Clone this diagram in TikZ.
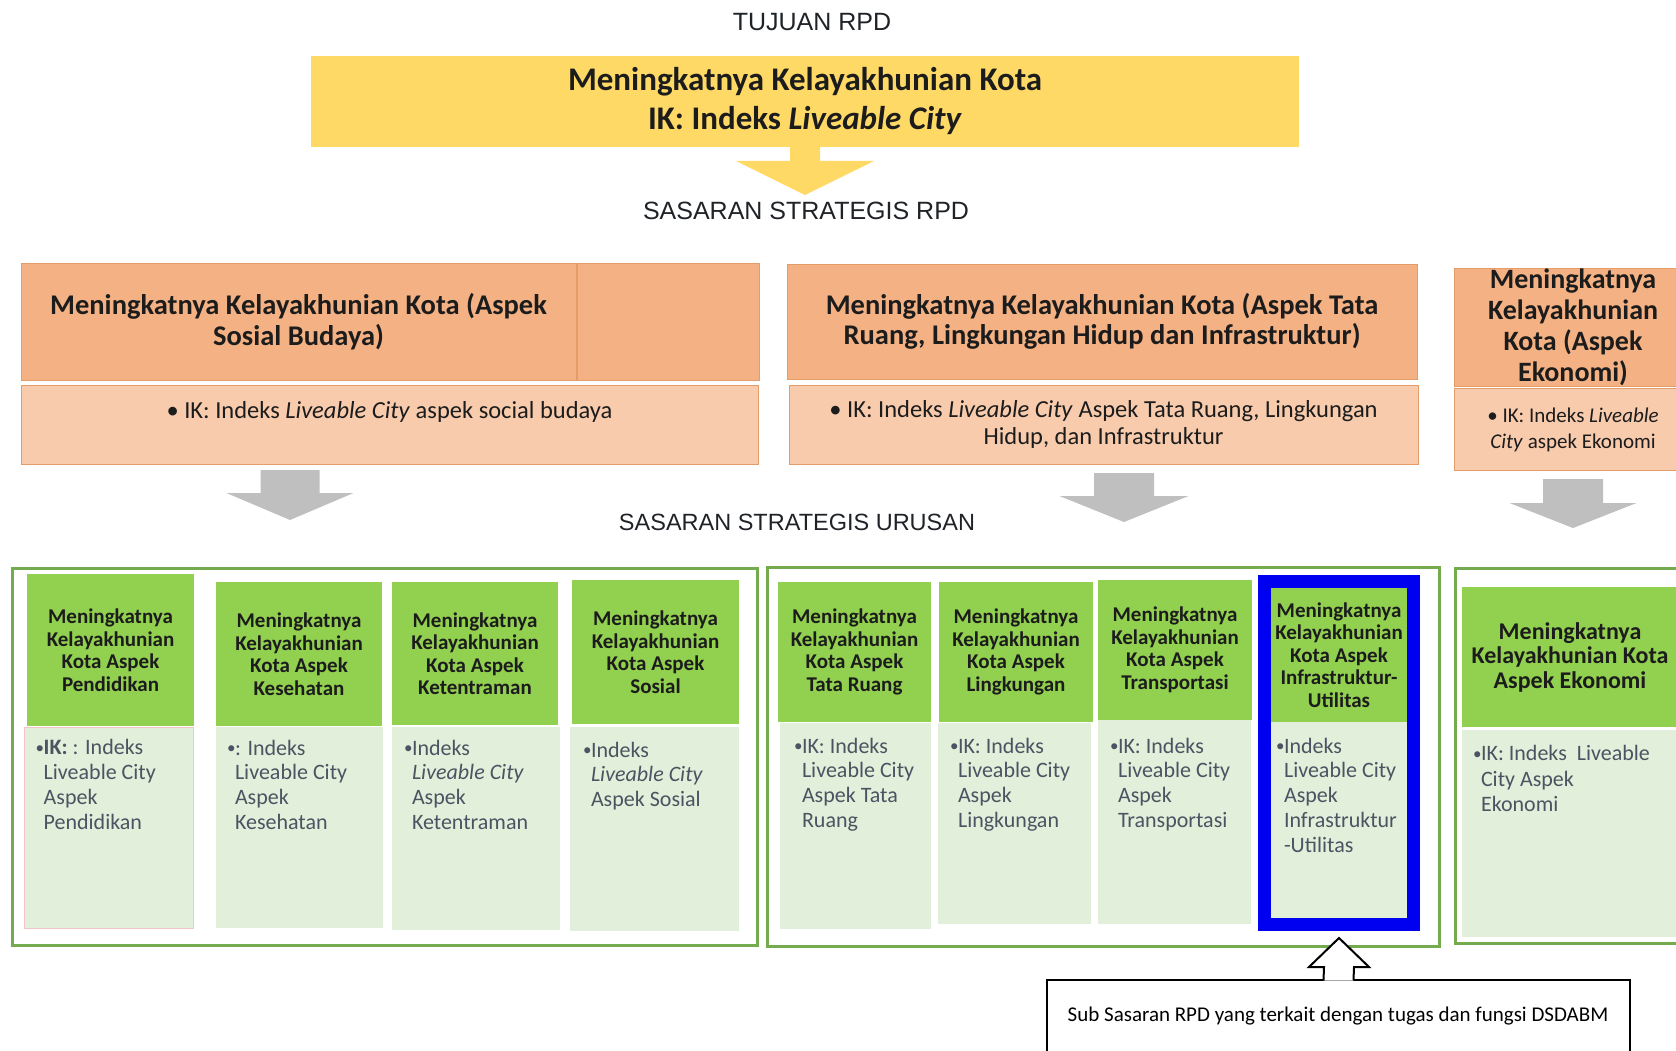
\documentclass[tikz,border=0pt]{standalone}
\usepackage{fontspec}
\setmainfont{Carlito}
\newfontfamily\capfont{Liberation Sans}
\usepackage{tikz}
\usetikzlibrary{positioning, calc, fit}

\definecolor{goldfill}{HTML}{FFD966}
\definecolor{orhead}{HTML}{F4B183}
\definecolor{orik}{HTML}{F8CBAD}
\definecolor{orline}{HTML}{E49C68}
\definecolor{grhead}{HTML}{92D050}
\definecolor{grbody}{HTML}{E2EFDA}
\definecolor{grframe}{HTML}{74AB4E}
\definecolor{pinkline}{HTML}{F2C6C6}
\definecolor{arrowgrey}{HTML}{BFBFBF}
\definecolor{bodyink}{HTML}{4A5462}
\definecolor{headink}{HTML}{1C1C1C}
\definecolor{capink}{HTML}{1F2328}
\definecolor{markblue}{HTML}{0000F0}

\newcommand{\goldfont}{\bfseries\fontsize{33}{39}\selectfont}
\newcommand{\orfont}{\bfseries\fontsize{28.5}{30.5}\selectfont}
\newcommand{\ekofont}{\bfseries\fontsize{28}{31}\selectfont}
\newcommand{\ikfont}{\fontsize{24.5}{27}\selectfont}
\newcommand{\ekoikfont}{\fontsize{21}{26}\selectfont}
\newcommand{\grfont}{\bfseries\fontsize{21}{22.5}\selectfont}
\newcommand{\ekogrfont}{\bfseries\fontsize{24}{24.5}\selectfont}
\newcommand{\bodyfont}{\fontsize{22}{24.7}\selectfont}
\newcommand{\capsfont}{\capfont\fontsize{25}{28}\selectfont}
\newcommand{\callfont}{\fontsize{21}{24}\selectfont}
\newcommand{\bul}[1]{\makebox[8pt][l]{\raisebox{1.5pt}{\fontsize{17}{17}\selectfont\textbullet}}\begin{tabular}[t]{@{}l@{}}#1\end{tabular}}

\tikzstyle{capslabel} = [inner sep=0pt, text=capink, font=\capsfont]
\tikzstyle{goldbox} = [rectangle, fill=goldfill, inner sep=0pt, align=center, text=headink, font=\goldfont]
\tikzstyle{orbox} = [rectangle, fill=orhead, draw=orline, line width=1, inner sep=0pt, align=center, text=headink, font=\orfont]
\tikzstyle{ikbox} = [rectangle, fill=orik, draw=orline, line width=1, inner sep=0pt, align=center, text=headink, font=\ikfont]
\tikzstyle{frame} = [rectangle, draw=grframe, line width=3, inner sep=0pt]
\tikzstyle{grhbox} = [rectangle, fill=grhead, inner sep=0pt, align=center, text=headink, font=\grfont]
\tikzstyle{grbbox} = [rectangle, fill=grbody, inner sep=0pt]
\tikzstyle{bodytext} = [inner sep=0pt, text=bodyink, font=\bodyfont]
\tikzstyle{bluemark} = [rectangle, draw=markblue, line width=13, inner sep=6.5pt]
\tikzset{
  blockarrow/.style n args={3}{to path={
    ($(\tikztostart)+(-#1,0)$) -- ($(\tikztotarget)+(-#1,#3)$) -- ($(\tikztotarget)+(-#2,#3)$)
    -- (\tikztotarget) -- ($(\tikztotarget)+(#2,#3)$) -- ($(\tikztotarget)+(#1,#3)$)
    -- ($(\tikztostart)+(#1,0)$)}}
}

\begin{document}
\begin{tikzpicture}[x=1pt, y=-1pt]
\useasboundingbox (0,0) rectangle (1676,1051);
\clip (0,0) rectangle (1676,1051);
\fill[white] (0,0) rectangle (1676,1051);

% tujuan
\node[capslabel] (tujuanLbl) at (812,22) {TUJUAN RPD};
\node[goldbox, minimum width=988, minimum height=91] (tujuan) at (805,101.5) {Meningkatnya Kelayakhunian Kota\\IK: Indeks \textit{Liveable City}};
\coordinate (tujuanTip) at (805,195);
\fill[goldfill] (tujuan.south) to[blockarrow={15}{69}{-34}] (tujuanTip);
\node[capslabel] (rpdLbl) at (806,211) {SASARAN STRATEGIS RPD};

% sasaran strategis rpd
\node[orbox, minimum width=555, minimum height=117] (sosH) at (298.5,321.5) {Meningkatnya Kelayakhunian Kota (Aspek\\Sosial Budaya)};
\node[orbox, minimum width=182, minimum height=117, right=0pt of sosH] (sosHx) {};
\node[ikbox, minimum width=737, minimum height=79] (sosI) at (389.5,424.5) {};
\node[inner sep=0pt, text=headink, font=\ikfont] (sosIt) at (389.5,412) {\textbullet\ IK: Indeks \textit{Liveable City} aspek social budaya};

\node[orbox, minimum width=630, minimum height=115] (tataH) at (1102,321.5) {Meningkatnya Kelayakhunian Kota (Aspek Tata\\Ruang, Lingkungan Hidup dan Infrastruktur)};
\node[ikbox, minimum width=629, minimum height=79] (tataI) at (1103.5,424.5) {\textbullet\ IK: Indeks \textit{Liveable City} Aspek Tata Ruang, Lingkungan\\Hidup, dan Infrastruktur};

\node[orbox, minimum width=238, minimum height=118] (ekoH) at (1573,327) {};
\node[inner sep=0pt, align=center, text=headink, font=\ekofont] (ekoHt) at (1573,327) {Meningkatnya\\Kelayakhunian\\Kota (Aspek\\Ekonomi)};
\node[ikbox, minimum width=238, minimum height=82] (ekoI) at (1573,429) {};
\node[inner sep=0pt, align=center, text=headink, font=\ekoikfont] (ekoIt) at (1573,430) {\textbullet\ IK: Indeks \textit{Liveable}\\\textit{City} aspek Ekonomi};

\coordinate (sosA) at (290,470);
\coordinate (sosT) at (290,520);
\coordinate (tataA) at (1124,473);
\coordinate (tataT) at (1124,522);
\coordinate (ekoA) at (1573,479);
\coordinate (ekoT) at (1573,528);
\fill[arrowgrey] (sosA) to[blockarrow={29.5}{63.5}{-27}] (sosT);
\fill[arrowgrey] (tataA) to[blockarrow={30}{64.5}{-26}] (tataT);
\fill[arrowgrey] (ekoA) to[blockarrow={30}{63.5}{-25}] (ekoT);

\node[capslabel, font=\capfont\fontsize{23.5}{26}\selectfont] (urusanLbl) at (797,522) {SASARAN STRATEGIS URUSAN};

% sasaran strategis urusan
\node[frame, minimum width=745, minimum height=377] (frSos) at (384.5,756.5) {};
\node[frame, minimum width=672, minimum height=379] (frTata) at (1103,756.5) {};
\node[frame, minimum width=240, minimum height=375] (frEko) at (1575,755.5) {};

\node[grhbox, minimum width=167, minimum height=152] (pendH) at (110.5,650) {Meningkatnya\\Kelayakhunian\\Kota Aspek\\Pendidikan};
\node[grbbox, draw=pinkline, line width=1, minimum width=169, minimum height=201] (pendB) at (108.5,827.5) {};
\node[bodytext, below right=11pt and 12pt of pendB.north west] (pendT) {\bul{\textbf{IK:} : Indeks\\Liveable City\\Aspek\\Pendidikan}};

\node[grhbox, minimum width=166, minimum height=144] (sehatH) at (299,654) {Meningkatnya\\Kelayakhunian\\Kota Aspek\\Kesehatan};
\node[grbbox, minimum width=167, minimum height=201] (sehatB) at (299.5,827.5) {};
\node[bodytext, below right=11pt and 11pt of sehatB.north west] (sehatT) {\bul{: Indeks\\Liveable City\\Aspek\\Kesehatan}};

\node[grhbox, minimum width=166, minimum height=143] (tentH) at (475,653.5) {Meningkatnya\\Kelayakhunian\\Kota Aspek\\Ketentraman};
\node[grbbox, minimum width=168, minimum height=203] (tentB) at (476,828.5) {};
\node[bodytext, below right=11pt and 12pt of tentB.north west] (tentT) {\bul{Indeks\\\textit{Liveable City}\\Aspek\\Ketentraman}};

\node[grhbox, minimum width=167, minimum height=144] (sosiH) at (655.5,652) {Meningkatnya\\Kelayakhunian\\Kota Aspek\\Sosial};
\node[grbbox, minimum width=169, minimum height=204] (sosiB) at (654.5,829) {};
\node[bodytext, below right=13pt and 13pt of sosiB.north west] (sosiT) {\bul{Indeks\\\textit{Liveable City}\\Aspek Sosial}};

\node[grhbox, minimum width=153, minimum height=140] (ruangH) at (854.5,652) {Meningkatnya\\Kelayakhunian\\Kota Aspek\\Tata Ruang};
\node[grbbox, minimum width=151, minimum height=206] (ruangB) at (855.5,826) {};
\node[bodytext, below right=13pt and 14pt of ruangB.north west] (ruangT) {\bul{IK: Indeks\\Liveable City\\Aspek Tata\\Ruang}};

\node[grhbox, minimum width=154, minimum height=140] (lingH) at (1016,652) {Meningkatnya\\Kelayakhunian\\Kota Aspek\\Lingkungan};
\node[grbbox, minimum width=153, minimum height=201] (lingB) at (1014.5,823.5) {};
\node[bodytext, below right=13pt and 12pt of lingB.north west] (lingT) {\bul{IK: Indeks\\Liveable City\\Aspek\\Lingkungan}};

\node[grhbox, minimum width=154, minimum height=140] (transH) at (1175,650) {Meningkatnya\\Kelayakhunian\\Kota Aspek\\Transportasi};
\node[grbbox, minimum width=153, minimum height=204] (transB) at (1174.5,822) {};
\node[bodytext, below right=16pt and 12pt of transB.north west] (transT) {\bul{IK: Indeks\\Liveable City\\Aspek\\Transportasi}};

\node[grhbox, minimum width=136, minimum height=134] (infH) at (1339,655) {Meningkatnya\\Kelayakhunian\\Kota Aspek\\Infrastruktur-\\Utilitas};
\node[grbbox, minimum width=136, minimum height=196] (infB) at (1339,820) {};
\node[bodytext, below right=14pt and 5pt of infB.north west] (infT) {\bul{Indeks\\Liveable City\\Aspek\\Infrastruktur\\-Utilitas}};
\node[bluemark, fit=(infH)(infB)] (infMark) {};

\node[grhbox, font=\ekogrfont, minimum width=216, minimum height=140] (ekoGH) at (1570,657) {Meningkatnya\\Kelayakhunian Kota\\Aspek Ekonomi};
\node[grbbox, minimum width=216, minimum height=207] (ekoGB) at (1570,833.5) {};
\node[bodytext, font=\fontsize{22}{25.5}\selectfont, below right=13pt and 11pt of ekoGB.north west] (ekoGT) {\bul{IK: Indeks\ \ Liveable\\City Aspek\\Ekonomi}};

% keterangan
\node[rectangle, draw=black, line width=2, fill=white, minimum width=583, minimum height=120, anchor=north] (callout) at (1338.5,979) {};
\node[inner sep=0pt, text=black, font=\callfont] (calloutT) at (1338,1016) {Sub Sasaran RPD yang terkait dengan tugas dan fungsi DSDABM};
\coordinate (ptr) at (1339,938);
\filldraw[fill=white, draw=black, line width=2] ([yshift=-1.5pt]callout.north) to[blockarrow={15}{30}{29}] (ptr);
\end{tikzpicture}
\end{document}
